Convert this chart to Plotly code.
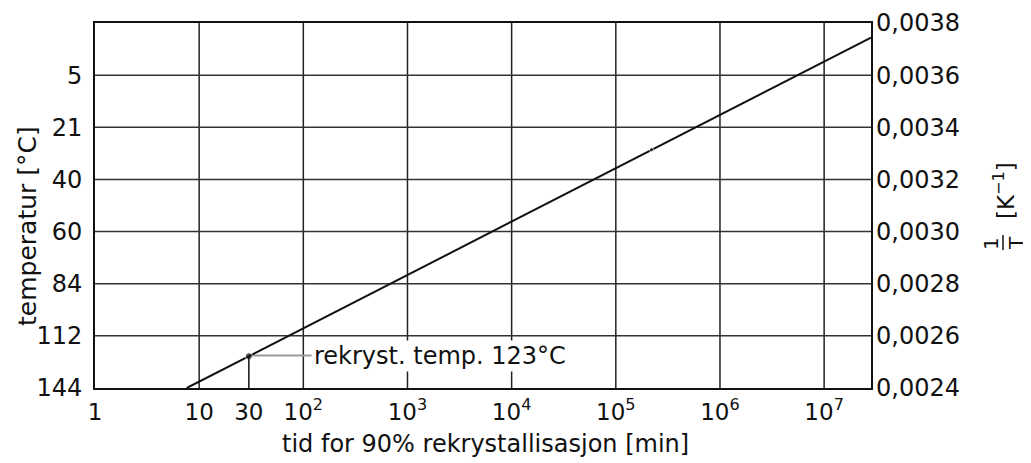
import math
import plotly.graph_objects as go

# ---- data ----
line_time = [7.6, 30, 2.82e7]                 # min
line_invT = [0.0024, 0.002522, 0.003744]      # 1/K
mark_time = [30, 2.2e5]
mark_invT = [0.002522, 0.003314]
mark_size = [7, 4]

rekryst_time = 30
rekryst_temp_C = 123
label_end_time = 120

invT_ticks = [0.0024, 0.0026, 0.0028, 0.0030, 0.0032, 0.0034, 0.0036, 0.0038]
invT_labels = ["0,0024", "0,0026", "0,0028", "0,0030", "0,0032", "0,0034", "0,0036", "0,0038"]
temp_ticks = [0.0024, 0.0026, 0.0028, 0.0030, 0.0032, 0.0034, 0.0036]
temp_labels = ["144", "112", "84", "60", "40", "21", "5"]

x_ticks = [1, 10, 30, 1e2, 1e3, 1e4, 1e5, 1e6, 1e7]
x_labels = ["1", "10", "30", "10<sup>2</sup>", "10<sup>3</sup>", "10<sup>4</sup>",
            "10<sup>5</sup>", "10<sup>6</sup>", "10<sup>7</sup>"]
decades = [10, 1e2, 1e3, 1e4, 1e5, 1e6, 1e7]

FONT = "DejaVu Sans"
PAGE_W, PAGE_H = 1031, 463
BODY = 8                      # default body margin of the page
L, R, T, B = 95, 871, 23, 388  # plot area in page pixels


def xp(px):
    return (px - L) / (R - L)


def yp(py):
    return (B - py) / (B - T)


rek_invT = 1 / (rekryst_temp_C + 273.15)

fig = go.Figure()
fig.add_trace(go.Scatter(x=line_time, y=line_invT, mode="lines",
                         line=dict(color="#111", width=2), showlegend=False,
                         hoverinfo="skip"))
fig.add_trace(go.Scatter(x=mark_time, y=mark_invT, mode="markers",
                         marker=dict(color="#111", size=mark_size), showlegend=False,
                         hoverinfo="skip"))
fig.add_trace(go.Scatter(x=[line_time[0]], y=[line_invT[0]], yaxis="y2", mode="markers",
                         marker=dict(opacity=0), showlegend=False, hoverinfo="skip"))

shapes = []
for d in decades:
    shapes.append(dict(type="line", xref="x", yref="paper", x0=d, x1=d, y0=0, y1=1,
                       line=dict(color="#222", width=1.5), layer="below"))
for v in temp_ticks[1:]:
    shapes.append(dict(type="line", xref="paper", yref="y", x0=0, x1=1, y0=v, y1=v,
                       line=dict(color="#333", width=1.5), layer="below"))
shapes.append(dict(type="line", xref="x", yref="y", x0=rekryst_time, x1=rekryst_time,
                   y0=rek_invT, y1=0.00238, line=dict(color="#111", width=1.5)))
shapes.append(dict(type="line", xref="x", yref="y", x0=rekryst_time, x1=label_end_time,
                   y0=rek_invT, y1=rek_invT, line=dict(color="#999", width=2), layer="below"))
shapes.append(dict(type="line", xref="paper", yref="paper", x0=xp(1003), x1=xp(1003),
                   y0=yp(235), y1=yp(250), line=dict(color="#111", width=1.5)))


def ann(x, y, text, size, angle=0, **kw):
    d = dict(x=x, y=y, xref="paper", yref="paper", text=text, textangle=angle,
             showarrow=False, xanchor="center", yanchor="middle",
             font=dict(family=FONT, size=size, color="#111"))
    d.update(kw)
    return d


annotations = [
    dict(x=math.log10(label_end_time), y=rek_invT, xref="x", yref="y", xanchor="left",
         yanchor="middle", text="rekryst. temp. 123°C", showarrow=False, bgcolor="white",
         borderpad=1, font=dict(family=FONT, size=24, color="#111")),
    ann(xp(27), yp(226), "temperatur [°C]", 25, -90),
    ann(xp(485), yp(444), "tid for 90% rekrystallisasjon [min]", 24),
    ann(xp(1004), yp(191), "[K<sup>−1</sup>]", 23, -90),
    ann(xp(991), yp(243), "1", 20, -90),
    ann(xp(1016), yp(243), "T", 20, -90),
]

fig.update_layout(
    width=PAGE_W - BODY, height=PAGE_H - BODY,
    margin=dict(l=L - BODY, r=PAGE_W - R, t=T - BODY, b=PAGE_H - B, autoexpand=False),
    paper_bgcolor="white", plot_bgcolor="white",
    font=dict(family=FONT, size=23, color="#111"),
    shapes=shapes, annotations=annotations,
    xaxis=dict(type="log", range=[0, 7.45], tickvals=x_ticks, ticktext=x_labels,
               showgrid=False, zeroline=False, showline=True, linecolor="#111",
               linewidth=2, mirror=True, ticks="", ticklabelstandoff=2,
               tickfont=dict(family=FONT, size=23, color="#111")),
    yaxis=dict(range=[0.0024, 0.0038], tickvals=temp_ticks, ticktext=temp_labels,
               showgrid=False, zeroline=False, showline=True, linecolor="#111",
               linewidth=2, mirror=True, ticks="", ticklabelstandoff=6,
               tickfont=dict(family=FONT, size=24, color="#111")),
    yaxis2=dict(range=[0.0024, 0.0038], tickvals=invT_ticks, ticktext=invT_labels,
                overlaying="y", side="right", showgrid=False, zeroline=False,
                showline=False, ticks="", ticklabelstandoff=4,
                tickfont=dict(family=FONT, size=24, color="#111")),
)

fig.write_html("out.html")
